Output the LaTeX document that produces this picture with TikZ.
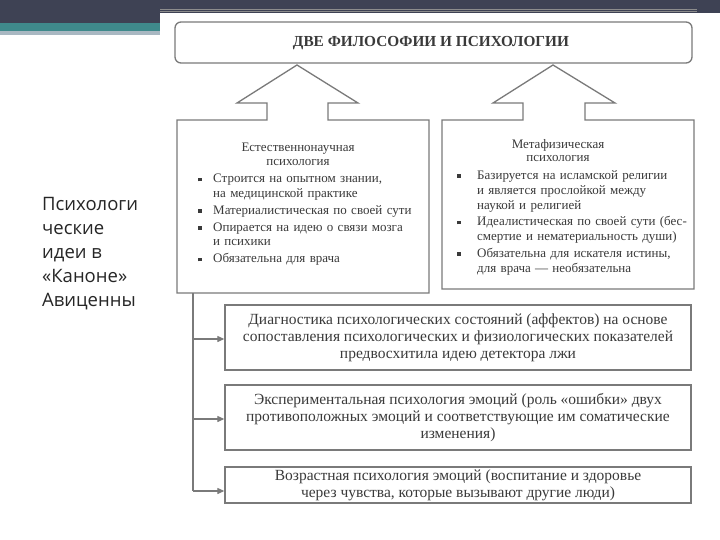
\documentclass[tikz,border=0pt]{standalone}
\usepackage{fontspec}
\setmainfont{Liberation Serif}
\newfontfamily\slidefont{Open Sans}
\usetikzlibrary{arrows.meta}
\definecolor{barDark}{HTML}{3E4254}
\definecolor{barTeal}{HTML}{3F8A8C}
\definecolor{barGray}{HTML}{A9B8C2}
\definecolor{scanInk}{HTML}{3A3A3A}
\definecolor{scanLine}{HTML}{7A7A7A}
\newcommand{\mybul}[2][15pt]{\par\noindent\hangindent=#1\hangafter=1\makebox[#1][l]{\raisebox{1.3pt}{\rule{3.5pt}{3.5pt}}}#2}
\tikzset{
  frame/.style={draw=scanLine, line width=1.3pt},
  hdtext/.style={font=\fontsize{13}{13.5}\selectfont, text=scanInk, align=center, inner sep=0pt},
  itemtext/.style={text=scanInk, align=left, inner sep=0pt, anchor=north west},
  lowbox/.style={frame, minimum width=466pt, inner sep=0pt, font=\fontsize{15.5}{17}\selectfont, text=scanInk, align=center},
  conn/.style={draw=scanLine, line width=1.1pt},
  tip/.style={-{Triangle[length=7pt,width=6pt]}}
}
\begin{document}
\begin{tikzpicture}[x=1pt,y=-1pt]
\useasboundingbox (0,0) rectangle (720,540);
\fill[white] (0,0) rectangle (720,540);
% slide decoration
\fill[barDark] (0,0) rectangle (720,13);
\fill[barDark] (0,13) rectangle (160,23);
\fill[barTeal] (0,23) rectangle (160,31);
\fill[barGray] (0,31) rectangle (160,35);
\draw[black!45, line width=0.5pt] (160,9.5) -- (697,9.5);
\draw[black!45, line width=0.5pt] (160,11.5) -- (697,11.5);
% slide caption
\node[anchor=north west, font=\slidefont\fontsize{18.5}{24}\selectfont, text=black!85, align=left, inner sep=0pt] (cap) at (42,197) {Психологи\\ческие\\идеи в\\«Каноне»\\Авиценны};
% title box
\draw[frame, rounded corners=6pt] (175,22) rectangle (692,63);
\node[font=\bfseries\fontsize{15.3}{16}\selectfont, text=scanInk, inner sep=0pt] (title) at (431,43) {ДВЕ ФИЛОСОФИИ И ПСИХОЛОГИИ};
% left box with block arrow
\node[minimum width=252pt, minimum height=173pt, inner sep=0pt] (lbox) at (303,206.5) {};
\draw[frame] (267,120) -- (177,120) -- (177,293) -- (429,293) -- (429,120) -- (328,120)
  -- (328,103) -- (358,103) -- (297,65) -- (237,103) -- (267,103) -- cycle;
\node[hdtext] (lhd) at (298,154.5) {Естественнонаучная\\психология};
\node[itemtext, text width=225pt, font=\fontsize{13}{14.5}\selectfont\setlength{\parskip}{2.5pt}] (litems) at (198,165.5) {%
\mybul{Строится на опытном знании,\newline на медицинской практике}
\mybul{Материалистическая по своей сути}
\mybul{Опирается на идею о связи мозга\newline и психики}
\mybul{Обязательна для врача}\par};
% right box with block arrow
\node[minimum width=252pt, minimum height=169pt, inner sep=0pt] (rbox) at (568,204.5) {};
\draw[frame] (523,120) -- (442,120) -- (442,289) -- (694,289) -- (694,120) -- (585,120)
  -- (585,103) -- (615,103) -- (553,65) -- (493,103) -- (523,103) -- cycle;
\node[hdtext] (rhd) at (558,150.5) {Метафизическая\\психология};
\node[itemtext, text width=235pt, font=\fontsize{13}{15}\selectfont\setlength{\parskip}{1.5pt}] (ritems) at (457,162.5) {%
\mybul[20pt]{Базируется на исламской религии\newline и является прослойкой между\newline наукой и религией}
\mybul[20pt]{Идеалистическая по своей сути (бес-\newline смертие и нематериальность души)}
\mybul[20pt]{Обязательна для искателя истины,\newline для врача — необязательна}\par};
% lower boxes
\node[lowbox, minimum height=65pt] (b1) at (458,337.5) {Диагностика психологических состояний (аффектов) на основе\\сопоставления психологических и физиологических показателей\\предвосхитила идею детектора лжи};
\node[lowbox, minimum height=65pt] (b2) at (458,417.5) {Экспериментальная психология эмоций (роль «ошибки» двух\\противоположных эмоций и соответствующие им соматические\\изменения)};
\node[lowbox, minimum height=36pt] (b3) at (458,485) {Возрастная психология эмоций (воспитание и здоровье\\через чувства, которые вызывают другие люди)};
% connectors
\coordinate (vtop) at (193,293);
\coordinate (c1) at (193,339);
\coordinate (c2) at (193,419);
\coordinate (c3) at (193,491);
\draw[conn] (vtop) -- (c3);
\draw[conn, tip] (c1) -- (c1 -| b1.west);
\draw[conn, tip] (c2) -- (c2 -| b2.west);
\draw[conn, tip] (c3) -- (c3 -| b3.west);
\end{tikzpicture}
\end{document}
